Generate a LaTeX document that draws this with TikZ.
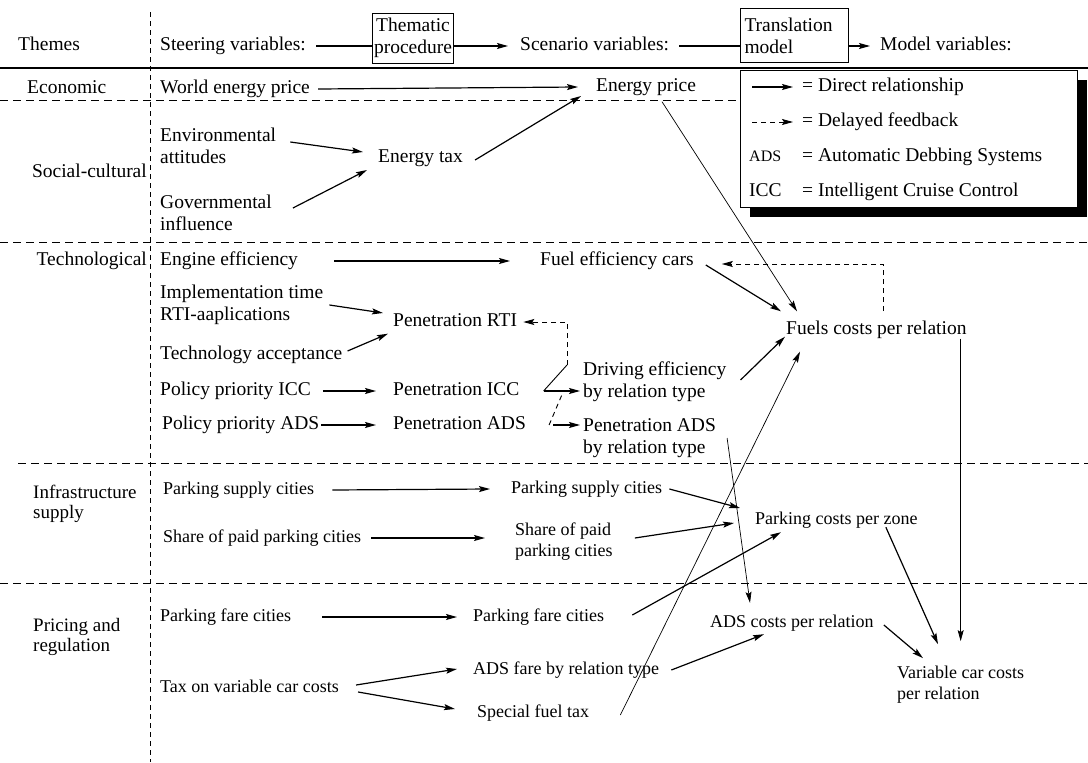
\documentclass[tikz,border=0pt]{standalone}
\usepackage{fontspec}
\setmainfont{Liberation Serif}
\usetikzlibrary{arrows.meta}
\newcommand{\fbig}{\fontsize{19.5}{22}\selectfont}
\newcommand{\fsml}{\fontsize{18}{21}\selectfont}
\newcommand{\fthm}{\fontsize{19}{20.5}\selectfont}
\begin{document}
\begin{tikzpicture}[x=1pt,y=-1pt,
  txt/.style={inner sep=0pt, anchor=west, font=\fbig, text height=13pt, text depth=4pt},
  txtb/.style={inner sep=0pt, anchor=west, font=\fbig, align=left},
  stxt/.style={inner sep=0pt, anchor=west, font=\fsml, text height=12pt, text depth=4pt},
  stxtb/.style={inner sep=0pt, anchor=west, font=\fsml, align=left},
  thm/.style={inner sep=0pt, anchor=west, font=\fthm, align=left},
  arr/.style={-{Stealth[length=11pt,width=6pt,inset=2pt]}, line width=1.2pt},
  tarr/.style={-{Stealth[length=11pt,width=6pt,inset=2pt]}, line width=0.7pt},
  fb/.style={-{Stealth[length=11pt,width=6pt,inset=2pt]}, line width=0.9pt, dash pattern=on 5pt off 4pt},
  fbl/.style={line width=0.9pt, dash pattern=on 5pt off 4pt},
  hsep/.style={line width=1pt, dash pattern=on 8pt off 5pt},
  vsep/.style={line width=0.9pt, dash pattern=on 5pt off 4pt},
  hbox/.style={draw, line width=1pt, font=\fbig},
]
\useasboundingbox (0,0) rectangle (1088,763);

% separators
\draw[line width=1.5pt] (0,68) -- (1088,68);
\draw[hsep] (0,100) -- (740,100);
\draw[hsep] (0,242) -- (1088,242);
\draw[hsep] (18,463) -- (1088,463);
\draw[hsep] (0,583) -- (1088,583);
\draw[vsep] (150,12) -- (150,762);

% legend
\fill[black] (750,80) rectangle (1087,217);
\node[draw, fill=white, line width=1pt, anchor=north west, inner sep=0pt,
      minimum width=337pt, minimum height=137pt] (legend) at (740,70) {};
\coordinate (la1) at (752,87); \coordinate (lb1) at (793,87);
\coordinate (la2) at (752,122); \coordinate (lb2) at (793,122);
\draw[arr] (la1) -- (lb1);
\draw[fb] (la2) -- (lb2);
\node[txt] (l1) at (802,87) {= Direct relationship};
\node[txt] (l2) at (802,122) {= Delayed feedback};
\node[txt, font=\fontsize{16}{18}\selectfont] (l3a) at (749,157) {ADS};
\node[txt] (l3) at (802,157) {= Automatic Debbing Systems};
\node[txt] (l4a) at (749,192) {ICC};
\node[txt] (l4) at (802,192) {= Intelligent Cruise Control};

% header
\node[txt] (themes) at (18,46) {Themes};
\node[txt] (steer) at (160,46) {Steering variables:};
\node[hbox, align=center, inner xsep=2pt, inner ysep=3pt, minimum height=50pt] (thema) at (413,38) {Thematic\\procedure};
\node[txt] (scen) at (520,46) {Scenario variables:};
\node[hbox, align=left, anchor=north west, inner xsep=4pt, inner ysep=3pt, text width=100pt, minimum height=54pt] (transl) at (740,8) {Translation\\model};
\node[txt] (model) at (880,46) {Model variables:};
\draw[line width=1.1pt] ([xshift=10pt]steer.east) -- (steer.east -| thema.west);
\draw[arr] (steer.east -| thema.east) -- ([xshift=-12pt]scen.west);
\draw[line width=1.1pt] ([xshift=10pt]scen.east) -- (scen.east -| transl.west);
\draw[arr] (scen.east -| transl.east) -- ([xshift=-10pt]model.west);

% economic
\node[txt] (econ) at (27,89) {Economic};
\node[txt] (wep) at (160,89) {World energy price};
\node[txt] (ep) at (596,87) {Energy price};
\draw[arr] ([xshift=8pt]wep.east) -- ([xshift=-18pt]ep.west);

% social-cultural
\node[txtb] (env) at (160,146) {Environmental\\attitudes};
\node[txt] (et) at (378,158) {Energy tax};
\node[txt, anchor=east] (soc) at (147,173) {Social-cultural};
\node[txtb] (gov) at (160,213) {Governmental\\influence};
\draw[arr] ([shift={(14,-4)}]env.east) -- ([shift={(-15,-6)}]et.west);
\draw[arr] ([shift={(21,-5)}]gov.east) -- ([shift={(-11,12)}]et.west);
\draw[arr] ([shift={(12,2)}]et.east) -- ([shift={(-15,9)}]ep.west);

% technological
\node[txt, anchor=east] (tech) at (147,261) {Technological};
\node[txt] (eng) at (160,261) {Engine efficiency};
\node[txt] (fec) at (540,261) {Fuel efficiency cars};
\node[txtb] (impl) at (160,305) {Implementation time\\RTI-aaplications};
\node[txt] (prti) at (393,322) {Penetration RTI};
\node[txt] (fuels) at (786,330) {Fuels costs per relation};
\node[txt] (tacc) at (160,355) {Technology acceptance};
\node[txt] (ppicc) at (160,391) {Policy priority ICC};
\node[txt] (picc) at (393,391) {Penetration ICC};
\node[txtb] (drv) at (583,382) {Driving efficiency\\by relation type};
\node[txt] (ppads) at (162,425) {Policy priority ADS};
\node[txt] (pads) at (393,425) {Penetration ADS};
\node[txtb] (padsr) at (583,438) {Penetration ADS\\by relation type};

\draw[arr] ([xshift=36pt]eng.east) -- ([xshift=-30pt]fec.west);
\draw[arr] ([shift={(6,0)}]impl.east) -- ([shift={(-10,-9)}]prti.west);
\draw[arr] ([shift={(5,-4)}]tacc.east) -- ([shift={(-5,3)}]prti.south west);
\draw[arr] ([xshift=12pt]ppicc.east) -- ([xshift=-17pt]picc.west);
\draw[arr] ([xshift=2pt]ppads.east) -- ([xshift=-17pt]pads.west);
\draw[arr] ([xshift=24pt]picc.east) -- ([xshift=-3pt]picc.east -| drv.west);
\draw[arr] ([xshift=27pt]pads.east) -- ([xshift=-3pt]pads.east -| padsr.west);

% delayed feedback to Penetration RTI
\coordinate (j2) at (567,365);
\coordinate (j3) at (567,322);
\draw[line width=0.9pt] ([xshift=24pt]picc.east) -- (j2);
\draw[fb] (j2) -- (j3) -- ([xshift=6pt]prti.east);
\draw[fbl] ([xshift=23pt]pads.east) -- ([shift={(37,-33)}]pads.east);

% into fuel costs
\draw[arr] ([shift={(12,4)}]fec.east) -- ([shift={(-5,-10)}]fuels.north west);
\draw[tarr] ([shift={(66,6)}]ep.south west) -- ([shift={(11,-10)}]fuels.north west);
\draw[arr] ([shift={(14,-2)}]drv.east) -- ([shift={(-1,-2)}]fuels.south west);
\coordinate (fb1) at (883,311);
\coordinate (fb2) at (883,264);
\draw[fb] (fb1) -- (fb2) -- ([shift={(28,3)}]fec.east);

% infrastructure supply
\node[thm] (infra) at (33,504) {Infrastructure\\supply};
\node[stxt] (psc1) at (163,490) {Parking supply cities};
\node[stxt] (psc2) at (511,489) {Parking supply cities};
\node[stxt] (sh1) at (163,538) {Share of paid parking cities};
\node[stxtb] (sh2) at (515,542) {Share of paid\\parking cities};
\node[stxt] (pcz) at (755,520) {Parking costs per zone};
\draw[arr] ([xshift=18pt]psc1.east) -- ([xshift=-21pt]psc2.west);
\draw[arr] ([xshift=10pt]sh1.east) -- ([xshift=-30pt]sh1.east -| sh2.west);
\draw[arr] ([shift={(7,0)}]psc2.east) -- ([shift={(-15,-12)}]pcz.west);
\draw[arr] ([shift={(22,-4)}]sh2.east) -- ([shift={(-21,3)}]pcz.west);

% pricing and regulation
\node[thm] (pricing) at (33,637) {Pricing and\\regulation};
\node[stxt] (pfc1) at (160,617) {Parking fare cities};
\node[stxt] (pfc2) at (473,617) {Parking fare cities};
\node[stxt] (adsf) at (473,670) {ADS fare by relation type};
\node[stxt] (tax) at (160,688) {Tax on variable car costs};
\node[stxt] (sft) at (477,713) {Special fuel tax};
\node[stxt] (adsc) at (710,623) {ADS costs per relation};
\node[stxtb] (var) at (897,685) {Variable car costs\\per relation};
\draw[arr] ([xshift=31pt]pfc1.east) -- ([xshift=-16pt]pfc2.west);
\draw[arr] ([shift={(17,-3)}]tax.east) -- ([shift={(-16,-1)}]adsf.west);
\draw[arr] ([shift={(19,4)}]tax.east) -- ([shift={(-22,-4)}]sft.west);
\draw[arr] ([shift={(28,-2)}]pfc2.east) -- ([shift={(26,4)}]pcz.south west);
\draw[arr] ([shift={(12,0)}]adsf.east) -- ([shift={(54,3)}]adsc.south west);
\draw[arr] ([shift={(10,2)}]adsc.east) -- ([shift={(26,-8)}]var.north west);
\draw[arr] ([shift={(-32,-1)}]pcz.south east) -- ([shift={(41,-22)}]var.north west);
\draw[tarr] ([shift={(11,0)}]padsr.east) -- ([shift={(40,-12)}]adsc.north west);
\draw[tarr] ([shift={(31,2)}]sft.east) -- ([shift={(14,13)}]fuels.south west);
\draw[tarr] (fuels.south -| var.north) -- ([shift={(0,-25)}]var.north);
\end{tikzpicture}
\end{document}
